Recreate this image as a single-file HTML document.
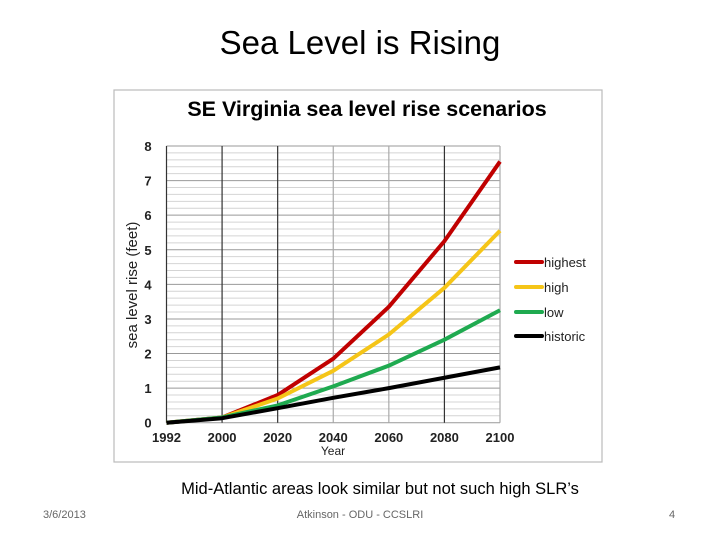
<!DOCTYPE html>
<html><head><meta charset="utf-8"><style>
body{margin:0;background:#fff;font-family:"Liberation Sans",sans-serif}
#page{position:relative;width:720px;height:540px;overflow:hidden}
.t{position:absolute;white-space:nowrap}
</style></head><body>
<div id="page">
<div class="t" style="left:0;width:720px;text-align:center;top:24px;font-size:33px;color:#000">Sea Level is Rising</div>
<svg width="720" height="540" style="position:absolute;left:0;top:0" id="chart">
<rect x="114" y="90" width="488" height="372" fill="#fff" stroke="#bbb" stroke-width="1.2"/>
<text x="367" y="116" text-anchor="middle" font-size="21.5" font-weight="bold" font-family="Liberation Sans, sans-serif">SE Virginia sea level rise scenarios</text>
<g id="grid"></g><g id="series"></g><g id="labels"></g>
<text transform="translate(137,285) rotate(-90)" text-anchor="middle" font-size="15" fill="#222">sea level rise (feet)</text>
<text x="333" y="455" text-anchor="middle" font-size="12" fill="#222">Year</text>
</svg>
<div class="t" style="left:0;width:760px;text-align:center;top:480px;font-size:16.5px">Mid-Atlantic areas look similar but not such high SLR’s</div>
<div class="t" style="left:43px;top:509px;font-size:11px;color:#666">3/6/2013</div>
<div class="t" style="left:0;width:720px;text-align:center;top:509px;font-size:11px;color:#666">Atkinson - ODU - CCSLRI</div>
<div class="t" style="left:669px;top:509px;font-size:11px;color:#666">4</div>
</div>
<script>
const years=["1992","2000","2020","2040","2060","2080","2100"];
const highest=[0,0.15,0.8,1.85,3.35,5.25,7.55];
const high=[0,0.15,0.7,1.5,2.55,3.9,5.55];
const low=[0,0.15,0.5,1.05,1.65,2.4,3.25];
const historic=[0,0.13,0.42,0.72,1.0,1.3,1.6];
const yTicks=[0,1,2,3,4,5,6,7,8];
const NS="http://www.w3.org/2000/svg";
const x0=166.5,x1=500,y0=422.7,y1=146;
const xs=i=>x0+i*(x1-x0)/(years.length-1);
const ys=v=>y0-(v/8)*(y0-y1);
function mk(tag,attrs,parent){const e=document.createElementNS(NS,tag);for(const k in attrs)e.setAttribute(k,attrs[k]);parent.appendChild(e);return e;}
const grid=document.getElementById('grid'),ser=document.getElementById('series'),lab=document.getElementById('labels');
for(let v=0;v<=8.001;v+=0.2){const maj=Math.abs(v-Math.round(v))<0.01;
 const l=mk('line',{x1:x0,x2:x1,y1:ys(v),y2:ys(v),stroke:maj?'#999':'#d4d4d4','stroke-width':1},grid);
 
 }
years.forEach((y,i)=>{const dark=[0,1,2,5].includes(i);
 const l=mk('line',{x1:xs(i),x2:xs(i),y1:y1,y2:y0,stroke:dark?'#333':'#aaa','stroke-width':1.2},grid);
 
 
 const t=mk('text',{x:xs(i),y:442,'text-anchor':'middle','font-size':13,'font-weight':'bold',fill:'#222'},lab);t.textContent=y;
 
 });
yTicks.forEach(v=>{const t=mk('text',{x:148,y:ys(v)+5,'text-anchor':'middle','font-size':13,'font-weight':'bold',fill:'#222'},lab);t.textContent=v;
 
 });
const S=[["highest",highest,"#c00000",262],["high",high,"#f5c518",287],["low",low,"#1faa50",312],["historic",historic,"#000",336]];
S.forEach(([n,d,c,ly])=>{
 const p=mk('polyline',{points:d.map((v,i)=>xs(i)+','+ys(v)).join(' '),fill:'none',stroke:c,'stroke-width':4,'stroke-linejoin':'round'},ser);
 
 
 const l=mk('line',{x1:516,x2:542,y1:ly,y2:ly,stroke:c,'stroke-width':4,'stroke-linecap':'round'},lab);
 
 
 const t=mk('text',{x:544,y:ly+5,'font-size':13,fill:'#222'},lab);t.textContent=n;
 
 });
</script>
</body></html>
